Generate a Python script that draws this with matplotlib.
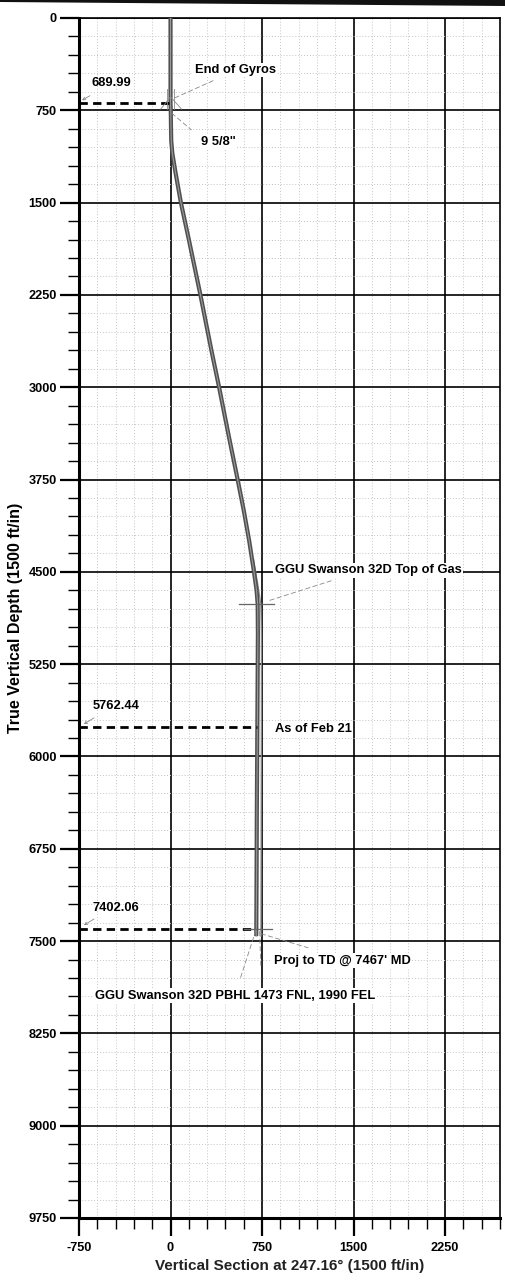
import matplotlib
matplotlib.use("Agg")
import matplotlib.pyplot as plt
from matplotlib.ticker import MultipleLocator, FixedLocator
from matplotlib.patches import Polygon

plt.rcParams['font.family'] = ['Liberation Sans', 'DejaVu Sans']

# ---- data ----
well_tvd = [0, 690, 750, 900, 1000, 1100, 1250, 1500, 1800, 2250, 2700, 3000, 3400, 3750,
            4000, 4250, 4500, 4650, 4760, 5000, 5500, 6000, 6500, 7000, 7402, 7460]
well_vs = [0, 0, 2, 4, 6, 15, 40, 85, 150, 245, 335, 398, 478, 550,
           600, 645, 684, 705, 714, 716, 713, 710, 707, 705, 703, 702]

plan_tvd = [4400, 4600, 4760, 5000, 5500, 6000, 6500, 7000, 7402, 7460]
plan_vs = [680, 715, 740, 745, 745, 744, 743, 742, 741, 741]

y_ticks = [0, 750, 1500, 2250, 3000, 3750, 4500, 5250, 6000, 6750, 7500, 8250, 9000, 9750]
x_ticks = [-750, 0, 750, 1500, 2250]

ref_depths = [689.99, 5762.44, 7402.06]
ref_labels = ["689.99", "5762.44", "7402.06"]
ref_end_vs = [0, 705, 703]

xlabel = "Vertical Section at 247.16\u00b0 (1500 ft/in)"
ylabel = "True Vertical Depth (1500 ft/in)"

W, H = 505, 1286
fig = plt.figure(figsize=(W / 100, H / 100), dpi=100)
ax = fig.add_axes([79 / W, 1 - 1218 / H, 421 / W, 1200 / H])

ax.set_xlim(-750, 2700)
ax.set_ylim(9750, 0)

# grids
ax.xaxis.set_major_locator(FixedLocator(x_ticks))
ax.yaxis.set_major_locator(FixedLocator(y_ticks))
ax.xaxis.set_minor_locator(MultipleLocator(150))
ax.yaxis.set_minor_locator(MultipleLocator(150))
ax.grid(which='minor', color='#c4c4c4', linestyle=(0, (1, 2)), linewidth=0.7)
ax.grid(which='major', color='black', linestyle='-', linewidth=1.2)
ax.set_axisbelow(True)

ax.tick_params(which='major', direction='out', length=14, width=1.6,
               labelsize=9.2, pad=2)
ax.tick_params(which='minor', direction='out', length=8, width=1.0)
ax.tick_params(axis='x', which='major', length=13, pad=4)
ax.set_xticklabels([str(v) for v in x_ticks], fontweight='bold')
ax.set_yticklabels([str(v) for v in y_ticks], fontweight='bold')

for s in ['left', 'bottom']:
    ax.spines[s].set_linewidth(2.2)
ax.spines['top'].set_linewidth(1.2)
ax.spines['right'].set_linewidth(1.2)

ax.set_xlabel(xlabel, fontsize=11, fontweight='bold', color='#222222', labelpad=4)
ax.set_ylabel(ylabel, fontsize=11.5, fontweight='bold', labelpad=4)

# well paths
ax.plot(plan_vs, plan_tvd, color='#8a8a8a', lw=0.9, zorder=4)
ax.plot(well_vs, well_tvd, color='#4f4f4f', lw=3.0, zorder=5, solid_capstyle='butt',
        solid_joinstyle='round')
ax.plot(well_vs, well_tvd, color='#999999', lw=0.8, zorder=6, solid_joinstyle='round')

# dashed reference lines
for d, e in zip(ref_depths, ref_end_vs):
    ax.plot([-750, e], [d, d], color='black', lw=2.0, dashes=(3.0, 1.9), zorder=7,
            dash_capstyle='butt')

gray = '#888888'
thin = dict(color=gray, lw=0.6, zorder=8)
dashthin = dict(color=gray, lw=0.6, zorder=8, dashes=(6, 3))

# casing / gyro markers
ax.plot([-30, -30], [580, 740], **thin)
ax.plot([30, 30], [580, 740], **thin)
ax.plot([-80, 0, 90], [740, 640, 740], **thin)
# top of gas target
ax.plot([560, 850], [4760, 4760], color='#666666', lw=0.9, zorder=8)
# PBHL target
ax.plot([600, 830], [7402, 7402], color='#666666', lw=0.9, zorder=8)

# leaders
arrow = dict(arrowstyle='->', color=gray, lw=0.6, mutation_scale=5)
ax.annotate("", xy=(-745, 680), xytext=(-640, 620), arrowprops=arrow, zorder=8)
ax.annotate("", xy=(-730, 5748), xytext=(-607, 5675), arrowprops=arrow, zorder=8)
ax.annotate("", xy=(-730, 7382), xytext=(-607, 7309), arrowprops=arrow, zorder=8)
ax.plot([33, 361], [650, 504], **dashthin)
ax.plot([8, 172], [772, 910], **dashthin)
ax.plot([812, 1328], [4732, 4569], **dashthin)
ax.plot([740, 1130], [7440, 7555], **dashthin)
ax.plot([700, 574], [7410, 7797], **dashthin)
ax.plot([730, 740], [7420, 7700], **dashthin)

# texts
bbox = dict(facecolor='white', edgecolor='none', pad=1.0)
tk = dict(fontsize=9.3, fontweight='bold', va='center', ha='left', zorder=9)
ax.text(-650, 530, "689.99", **tk)
ax.text(197, 423, "End of Gyros", bbox=bbox, **tk)
ax.text(246, 1008, "9 5/8\"", bbox=bbox, **tk)
ax.text(853, 4488, "GGU Swanson 32D Top of Gas", bbox=bbox, **tk)
ax.text(-640, 5593, "5762.44", **tk)
ax.text(853, 5780, "As of Feb 21", bbox=bbox, **tk)
ax.text(-640, 7228, "7402.06", **tk)
ax.text(845, 7658, "Proj to TD @ 7467' MD", bbox=bbox, **tk)
ax.text(-620, 7943, "GGU Swanson 32D PBHL 1473 FNL, 1990 FEL", bbox=bbox, **tk)

# scan edge at top of the page
band = Polygon([(0, 1.0), (1.0, 1.0), (1.0, 1 - 6 / H), (0.5, 1 - 4 / H), (0, 1 - 2 / H)],
               closed=True, transform=fig.transFigure, facecolor='#111111',
               edgecolor='none')
fig.add_artist(band)

fig.savefig("out.png", dpi=100)
